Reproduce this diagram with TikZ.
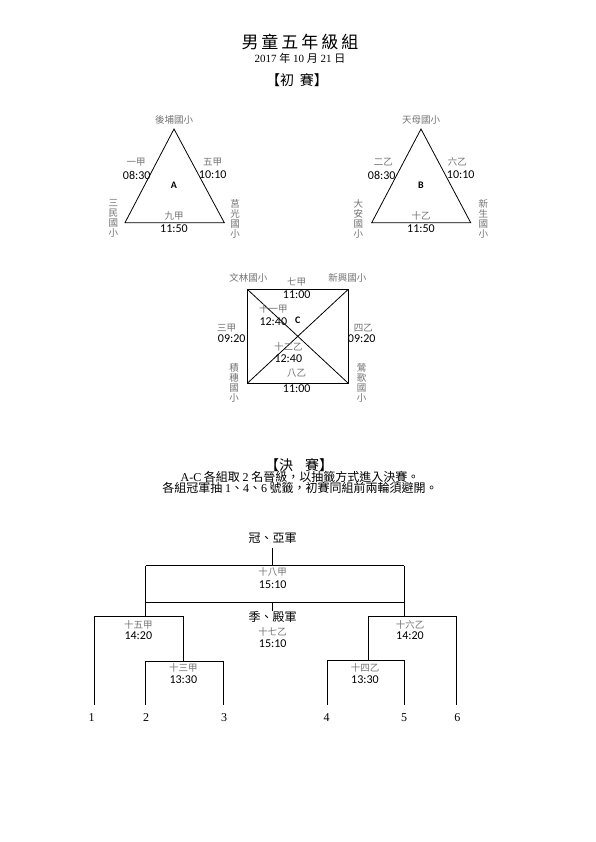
\documentclass[tikz,border=0pt]{standalone}
\usepackage{fontspec}
\setmainfont{Liberation Serif}
\newfontfamily\cjkf{Noto Sans CJK TC}
\newfontfamily\timefont{Carlito}
\definecolor{lbl}{gray}{0.45}
\tikzset{
  lab/.style={font=\cjkf\fontsize{9.5}{10}\selectfont, text=lbl, inner sep=0},
  vlab/.style={font=\cjkf\fontsize{9.5}{10}\selectfont, text=lbl, inner sep=0, align=center},
  tm/.style={font=\timefont\fontsize{12}{12}\selectfont, inner sep=0},
  grp/.style={font=\timefont\bfseries\fontsize{10}{12}\selectfont, inner sep=0},
  edge/.style={draw, line width=0.8pt},
  head/.style={font=\cjkf\fontsize{12}{14}\selectfont, inner sep=0},
  num/.style={font=\rmfamily\fontsize{12}{14}\selectfont, inner sep=0},
}
\begin{document}
\begin{tikzpicture}[x=1pt,y=-1pt]
\fill[white] (0,0) rectangle (595,842);
\useasboundingbox (0,0) rectangle (595,842);

% titles
\node[inner sep=0, font=\cjkf\fontsize{17}{19}\selectfont] (title) at (300,41.7) {男\hspace{3pt}童\hspace{3pt}五\hspace{3pt}年\hspace{3pt}級\hspace{3pt}組};
\node[inner sep=0, font=\fontsize{11}{13}\selectfont] (date) at (300,58.3) {2017 {\cjkf 年} 10 {\cjkf 月} 21 {\cjkf 日}};
\node[inner sep=0, font=\cjkf\fontsize{14}{16}\selectfont] (prelim) at (297,80) {【初\hspace{6pt}賽】};

% ---- Group A
\coordinate (A1) at (174,129);
\coordinate (A2) at (125,222.7);
\coordinate (A3) at (224.3,222.7);
\draw[edge] (A1) -- (A2) -- (A3) -- cycle;
\node[lab] (a-top) at (174,120) {後埔國小};
\node[lab] (a-l) at (136,162.3) {一甲};
\node[tm] (a-lt) at (136.7,175) {08:30};
\node[lab] (a-r) at (212.7,162.3) {五甲};
\node[tm] (a-rt) at (212.7,175) {10:10};
\node[grp] (a-name) at (174,185) {A};
\node[lab] (a-b) at (174,216) {九甲};
\node[tm] (a-bt) at (174,228.3) {11:50};
\node[vlab] (a-sl) at (113.3,218.7) {三\\民\\國\\小};
\node[vlab] (a-sr) at (235,218.7) {莒\\光\\國\\小};

% ---- Group B
\coordinate (B1) at (421,129);
\coordinate (B2) at (371.7,222.7);
\coordinate (B3) at (470.7,222.7);
\draw[edge] (B1) -- (B2) -- (B3) -- cycle;
\node[lab] (b-top) at (421,120) {天母國小};
\node[lab] (b-l) at (383.3,162.3) {二乙};
\node[tm] (b-lt) at (381.7,175) {08:30};
\node[lab] (b-r) at (457.3,162.3) {六乙};
\node[tm] (b-rt) at (460.7,175) {10:10};
\node[grp] (b-name) at (421,185) {B};
\node[lab] (b-b) at (421,216) {十乙};
\node[tm] (b-bt) at (421,228.3) {11:50};
\node[vlab] (b-sl) at (358.3,218.7) {大\\安\\國\\小};
\node[vlab] (b-sr) at (483.3,218.7) {新\\生\\國\\小};

% ---- Group C
\coordinate (C1) at (247.3,289.3);
\coordinate (C2) at (348.3,289.3);
\coordinate (C3) at (348.3,383.3);
\coordinate (C4) at (247.3,383.3);
\draw[edge] (C1) -- (C2) -- (C3) -- (C4) -- cycle;
\draw[edge] (C1) -- (C3);
\draw[edge] (C2) -- (C4);
\node[lab] (c-tl) at (248.3,278.3) {文林國小};
\node[lab] (c-tr) at (347.3,278.3) {新興國小};
\node[lab] (c-t) at (296.7,281.7) {七甲};
\node[tm] (c-tt) at (296.7,295) {11:00};
\node[lab] (c-d1) at (273.3,309.3) {十一甲};
\node[tm] (c-d1t) at (273.3,321.7) {12:40};
\node[grp] (c-name) at (297.7,320) {C};
\node[lab] (c-l) at (226.7,328.3) {三甲};
\node[tm] (c-lt) at (231.7,339) {09:20};
\node[lab] (c-r) at (363.3,328.3) {四乙};
\node[tm] (c-rt) at (361.7,339) {09:20};
\node[lab] (c-d2) at (288.3,346.7) {十二乙};
\node[tm] (c-d2t) at (288.3,359) {12:40};
\node[lab] (c-b) at (296.7,373.3) {八乙};
\node[tm] (c-bt) at (296.7,388.3) {11:00};
\node[vlab] (c-sl) at (234,383.3) {積\\穗\\國\\小};
\node[vlab] (c-sr) at (361.7,383.3) {鶯\\歌\\國\\小};

% ---- finals text
\node[inner sep=0, font=\cjkf\fontsize{14}{16}\selectfont] (final) at (299,465) {【決\hspace{12pt}賽】};
\node[head] (rule1) at (300,476.7) {{\rmfamily A-C} 各組取 {\rmfamily 2} 名晉級，以抽籤方式進入決賽。};
\node[head] (rule2) at (300,488.3) {各組冠軍抽 {\rmfamily 1}、{\rmfamily 4}、{\rmfamily 6} 號籤，初賽同組前兩輪須避開。};

% ---- bracket
\node[head] (champ) at (272.7,538) {冠、亞軍};
\coordinate (top1) at (272.7,547.7);
\coordinate (top2) at (272.7,565.7);
\coordinate (TL) at (145.7,565.7);
\coordinate (TR) at (404,565.7);
\coordinate (ML) at (145.7,602.3);
\coordinate (MR) at (404,602.3);
\coordinate (M0) at (272.7,602.3);
\coordinate (M1) at (272.7,611);
\coordinate (LL) at (145.7,616);
\coordinate (RR) at (404,616);
\draw[edge] (top1) -- (top2);
\draw[edge] (TL) -- (TR);
\draw[edge] (ML) -- (MR);
\draw[edge] (M0) -- (M1);
\draw[edge] (TL) -- (LL);
\draw[edge] (TR) -- (RR);

\node[lab] (f18) at (272.7,571.7) {十八甲};
\node[tm] (f18t) at (272.7,584.3) {15:10};
\node[head] (third) at (272.7,616.7) {季、殿軍};
\node[lab] (f17) at (272.7,631.7) {十七乙};
\node[tm] (f17t) at (272.7,643.3) {15:10};

% left sub-bracket
\coordinate (L1a) at (94.3,616);
\coordinate (L1b) at (183.3,616);
\coordinate (L1c) at (183.3,661);
\draw[edge] (L1a) -- (L1b);
\draw[edge] (L1b) -- (L1c);
\coordinate (L2a) at (145.7,661);
\coordinate (L2b) at (223.3,661);
\draw[edge] (L2a) -- (L2b);
\node[lab] (f15) at (138.3,625) {十五甲};
\node[tm] (f15t) at (138.3,635.5) {14:20};
\node[lab] (f13) at (183.3,667.7) {十三甲};
\node[tm] (f13t) at (183.3,680) {13:30};

% right sub-bracket
\coordinate (R1a) at (368.3,616);
\coordinate (R1b) at (456,616);
\coordinate (R1c) at (368.3,660);
\draw[edge] (R1a) -- (R1b);
\draw[edge] (R1a) -- (R1c);
\coordinate (R2a) at (327.3,660);
\coordinate (R2b) at (404,660);
\draw[edge] (R2a) -- (R2b);
\node[lab] (f16) at (410,625) {十六乙};
\node[tm] (f16t) at (410,635.5) {14:20};
\node[lab] (f14) at (365,667.7) {十四乙};
\node[tm] (f14t) at (365,680) {13:30};

% seeds
\coordinate (S1) at (94.3,705);
\coordinate (S2) at (145.7,705);
\coordinate (S3) at (223.3,705);
\coordinate (S4) at (327.3,705);
\coordinate (S5) at (404,705);
\coordinate (S6) at (456,705);
\draw[edge] (L1a) -- (S1);
\draw[edge] (L2a) -- (S2);
\draw[edge] (L2b) -- (S3);
\draw[edge] (R2a) -- (S4);
\draw[edge] (R2b) -- (S5);
\draw[edge] (R1b) -- (S6);
\node[num] (n1) at (91.7,717.7) {1};
\node[num] (n2) at (146,717.7) {2};
\node[num] (n3) at (224,717.7) {3};
\node[num] (n4) at (326.7,717.7) {4};
\node[num] (n5) at (404,717.7) {5};
\node[num] (n6) at (457.3,717.7) {6};
\end{tikzpicture}
\end{document}
